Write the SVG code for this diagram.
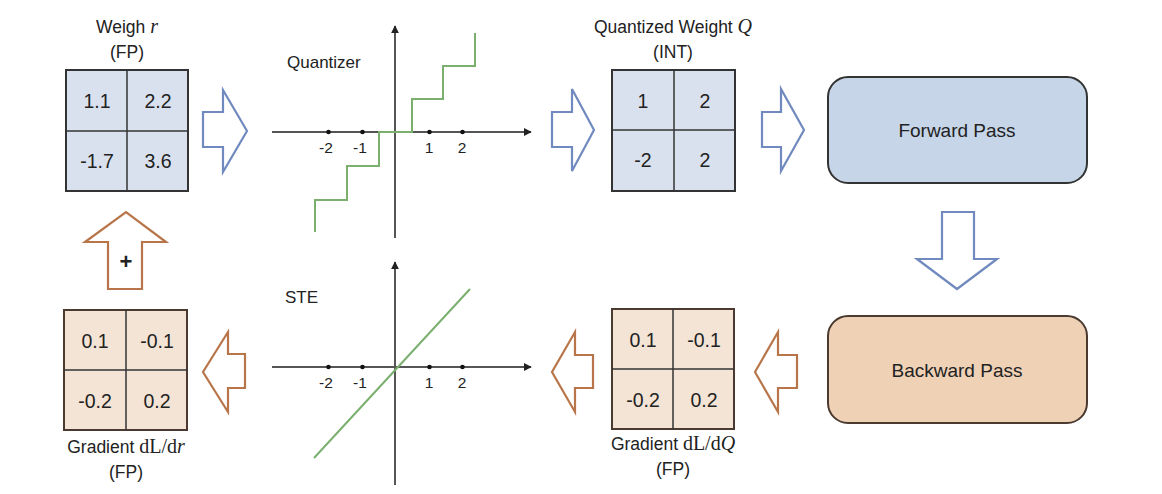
<svg xmlns="http://www.w3.org/2000/svg" width="1162" height="494" viewBox="0 0 1162 494">
<defs>
<marker id="ah" viewBox="0 0 10 10" refX="9" refY="5" markerWidth="4" markerHeight="4" orient="auto" markerUnits="strokeWidth"><path d="M0,0 L10,5 L0,10 z" fill="#222"/></marker>
<style>
text{font-family:"Liberation Sans",Arial,sans-serif;fill:#222}
.t{font-size:17.5px;text-anchor:middle}
.m{font-family:"Liberation Serif","Times New Roman",serif;font-size:20px}
.n{font-size:19.5px;text-anchor:middle}
.ax{font-size:15.5px;text-anchor:middle}
.bx{font-size:19px;text-anchor:middle}
.mb{fill:#d9e1ee;stroke:#333;stroke-width:2}
.mo{fill:#f4e4d6;stroke:#4a3a30;stroke-width:2}
.gl{stroke:#333;stroke-width:1.5}
.ab{fill:#fff;stroke:#7089bf;stroke-width:2.2;stroke-linejoin:miter}
.ao{fill:#fff;stroke:#b8754a;stroke-width:2.2;stroke-linejoin:miter}
.axis{stroke:#555;stroke-width:2;marker-end:url(#ah)}
.g{fill:none;stroke:#7aaf6e;stroke-width:2}
.dot{fill:#111}
</style>
</defs>
<rect width="1162" height="494" fill="#fff"/>

<g id="weight-r">
<text class="t" x="127" y="33">Weigh <tspan class="m" font-style="italic">r</tspan></text>
<text class="t" x="127" y="58">(FP)</text>
<rect class="mb" x="66" y="70" width="122" height="121"/>
<line class="gl" x1="127" y1="70" x2="127" y2="191"/>
<line class="gl" x1="66" y1="131" x2="188" y2="131"/>
<text class="n" x="97" y="108">1.1</text>
<text class="n" x="158" y="108">2.2</text>
<text class="n" x="97" y="168">-1.7</text>
<text class="n" x="158" y="168">3.6</text>
</g>

<g id="quantizer">
<text x="287" y="68" font-size="17">Quantizer</text>
<line class="axis" x1="272" y1="132" x2="531" y2="132"/>
<line class="axis" x1="395" y1="238" x2="395" y2="26"/>
<circle class="dot" cx="328.5" cy="132" r="2.3"/>
<circle class="dot" cx="362.5" cy="132" r="2.3"/>
<circle class="dot" cx="429.5" cy="132" r="2.3"/>
<circle class="dot" cx="462.5" cy="132" r="2.3"/>
<text class="ax" x="326" y="153">-2</text>
<text class="ax" x="360" y="153">-1</text>
<text class="ax" x="429" y="153">1</text>
<text class="ax" x="462" y="153">2</text>
<polyline class="g" points="315,232 315,200 347,200 347,166 379,166 379,132 412,132 412,99 443,99 443,66 475,66 475,33"/>
</g>

<g id="quantized-weight">
<text class="t" x="673" y="33">Quantized Weight <tspan class="m" font-style="italic">Q</tspan></text>
<text class="t" x="673" y="58">(INT)</text>
<rect class="mb" x="612" y="70" width="123" height="121"/>
<line class="gl" x1="674" y1="70" x2="674" y2="191"/>
<line class="gl" x1="612" y1="130" x2="735" y2="130"/>
<text class="n" x="643" y="108">1</text>
<text class="n" x="705" y="108">2</text>
<text class="n" x="643" y="167">-2</text>
<text class="n" x="705" y="167">2</text>
</g>

<g id="forward-pass">
<rect x="828" y="77" width="259" height="106" rx="20" fill="#c6d6e8" stroke="#333" stroke-width="2"/>
<text class="bx" x="957" y="137">Forward Pass</text>
</g>

<g id="backward-pass">
<rect x="828" y="316" width="259" height="107" rx="20" fill="#efd1b6" stroke="#4a3a30" stroke-width="2"/>
<text class="bx" x="957" y="377">Backward Pass</text>
</g>

<g id="gradient-q">
<rect class="mo" x="612" y="309" width="122" height="120"/>
<line class="gl" x1="673" y1="309" x2="673" y2="429" stroke="#4a3a30"/>
<line class="gl" x1="612" y1="369" x2="734" y2="369" stroke="#4a3a30"/>
<text class="n" x="643" y="347">0.1</text>
<text class="n" x="704" y="347">-0.1</text>
<text class="n" x="643" y="407">-0.2</text>
<text class="n" x="704" y="407">0.2</text>
<text class="t" x="673" y="450">Gradient <tspan class="m">dL/d</tspan><tspan class="m" font-style="italic">Q</tspan></text>
<text class="t" x="673" y="475">(FP)</text>
</g>

<g id="ste">
<text x="285" y="303" font-size="17">STE</text>
<line class="axis" x1="272" y1="367" x2="531" y2="367"/>
<line class="axis" x1="395" y1="485" x2="395" y2="262"/>
<circle class="dot" cx="328.5" cy="367" r="2.3"/>
<circle class="dot" cx="362.5" cy="367" r="2.3"/>
<circle class="dot" cx="429.5" cy="367" r="2.3"/>
<circle class="dot" cx="462.5" cy="367" r="2.3"/>
<text class="ax" x="326" y="388">-2</text>
<text class="ax" x="360" y="388">-1</text>
<text class="ax" x="429" y="388">1</text>
<text class="ax" x="462" y="388">2</text>
<line class="g" x1="314" y1="458" x2="470" y2="289"/>
</g>

<g id="gradient-r">
<rect class="mo" x="64" y="310" width="123" height="120"/>
<line class="gl" x1="126" y1="310" x2="126" y2="430" stroke="#4a3a30"/>
<line class="gl" x1="64" y1="370" x2="187" y2="370" stroke="#4a3a30"/>
<text class="n" x="95" y="348">0.1</text>
<text class="n" x="157" y="348">-0.1</text>
<text class="n" x="95" y="408">-0.2</text>
<text class="n" x="157" y="408">0.2</text>
<text class="t" x="126" y="453">Gradient <tspan class="m">dL/d</tspan><tspan class="m" font-style="italic">r</tspan></text>
<text class="t" x="126" y="478">(FP)</text>
</g>

<g id="connectors">
<polygon class="ab" points="203,112 223,112 223,90 247,131 223,172 223,147 203,147"/>
<polygon class="ab" points="552,112 572,112 572,89 594,130 572,171 572,147 552,147"/>
<polygon class="ab" points="762,112 781,112 781,89 804,130 781,171 781,147 762,147"/>
<polygon class="ab" points="942,212 974,212 974,259 997,259 957,289 917,259 942,259"/>
<polygon class="ao" points="797,355 778,355 778,332 755,372 778,412 778,388 797,388"/>
<polygon class="ao" points="593,355 575,355 575,332 552,372 575,412 575,388 593,388"/>
<polygon class="ao" points="245,354 228,354 228,332 203,372 228,412 228,388 245,388"/>
<polygon class="ao" points="108,289 142,289 142,242 166,242 126,212 85,242 108,242"/>
<text x="126" y="269" font-size="22" font-weight="bold" text-anchor="middle">+</text>
</g>
</svg>
